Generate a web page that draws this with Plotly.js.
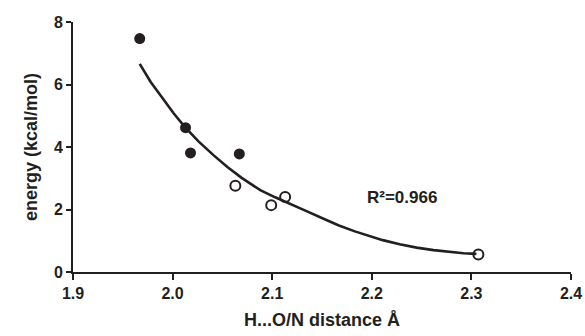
<!DOCTYPE html>
<html>
<head>
<meta charset="utf-8">
<script src="https://cdn.plot.ly/plotly-3.0.1.min.js"></script>
<style>html,body{margin:0;padding:0;background:#fff;}#chart{width:585px;height:336px;}</style>
</head>
<body>
<div id="chart"></div>
<script>
// Filled circles
var filledX = [1.967, 2.013, 2.018, 2.067];
var filledY = [7.47, 4.62, 3.81, 3.78];
// Open circles
var openX = [2.063, 2.099, 2.113, 2.307];
var openY = [2.76, 2.14, 2.40, 0.56];
// Trend curve
var fitX = [1.967, 1.978, 1.990, 2.001, 2.012, 2.026, 2.041, 2.055, 2.069, 2.088, 2.103, 2.118, 2.135, 2.151, 2.167, 2.183, 2.197, 2.211, 2.228, 2.245, 2.262, 2.278, 2.292, 2.305];
var fitY = [6.66, 6.08, 5.56, 5.08, 4.65, 4.18, 3.74, 3.36, 3.02, 2.62, 2.39, 2.19, 1.94, 1.71, 1.49, 1.30, 1.15, 1.02, 0.89, 0.78, 0.70, 0.64, 0.60, 0.58];
// Tick labels and texts
var xTickVals = [1.9, 2.0, 2.1, 2.2, 2.3, 2.4];
var xTickLabels = ['1.9', '2.0', '2.1', '2.2', '2.3', '2.4'];
var yTickVals = [0, 2, 4, 6, 8];
var yTickLabels = ['0', '2', '4', '6', '8'];
var r2Text = 'R\u00B2=0.966';
var xTitleText = 'H...O/N distance Å';
var yTitleText = 'energy (kcal/mol)';

function drawChart() {
  var ink = '#231f20';
  var fam = 'Liberation Sans, Arial, sans-serif';
  var bold = function (s) { return '<b>' + s + '</b>'; };

  var data = [
    {x: fitX, y: fitY, mode: 'lines', line: {color: ink, width: 2.6}},
    {x: filledX, y: filledY, mode: 'markers', marker: {size: 11, color: ink}},
    {x: openX, y: openY, mode: 'markers', marker: {symbol: 'circle-open', size: 10, color: ink, line: {width: 2}}}
  ];

  var lay = {
    width: 585, height: 336,
    margin: {l: 73, r: 14, t: 22, b: 64},
    showlegend: false,
    xaxis: {
      range: [1.9, 2.4], tickvals: xTickVals, ticktext: xTickLabels.map(bold),
      ticks: 'outside', ticklen: 6, tickwidth: 2, tickcolor: ink,
      tickfont: {family: fam, size: 16, color: ink},
      showgrid: false, zeroline: false, showline: true, linecolor: ink, linewidth: 2,
      title: {text: bold(xTitleText), font: {family: fam, size: 18, color: ink}, standoff: 12}
    },
    yaxis: {
      range: [0, 8], tickvals: yTickVals, ticktext: yTickLabels.map(bold),
      ticks: 'outside', ticklen: 5, tickwidth: 2, tickcolor: ink,
      tickfont: {family: fam, size: 16, color: ink},
      showgrid: false, zeroline: false, showline: true, linecolor: ink, linewidth: 2,
      title: {text: bold(yTitleText), font: {family: fam, size: 18, color: ink}, standoff: 12}
    },
    annotations: [{x: 2.23, y: 2.4, text: bold(r2Text), showarrow: false,
      font: {family: fam, size: 17, color: ink}}]
  };

  Plotly.newPlot('chart', data, lay, {displayModeBar: false});
}
drawChart();
</script>
</body>
</html>
